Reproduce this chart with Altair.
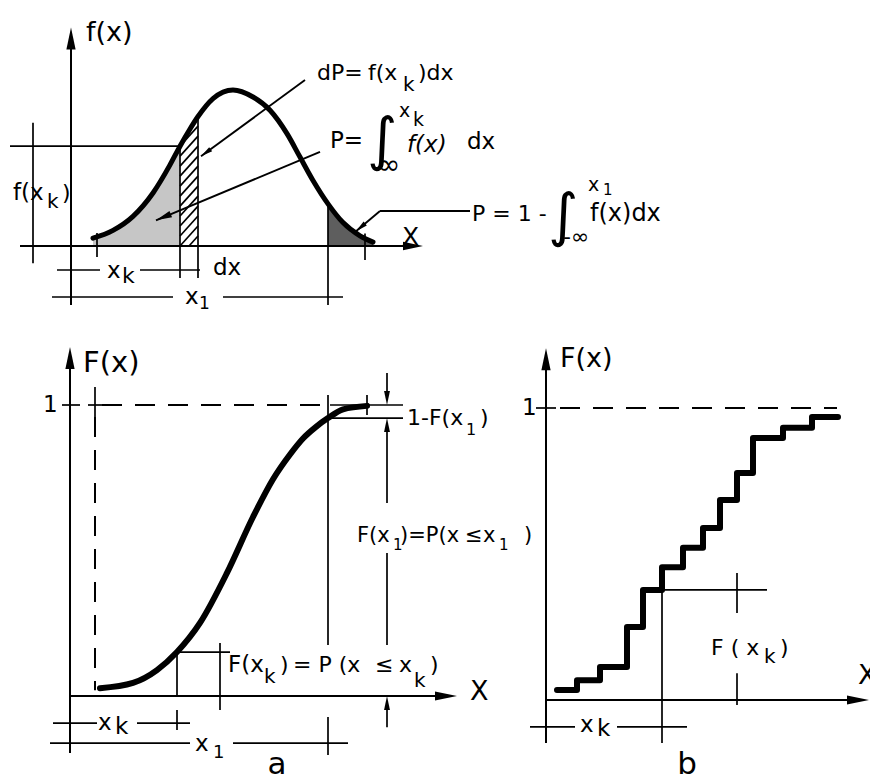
import math
import numpy as np
import pandas as pd
import altair as alt

FONT = "DejaVu Sans"
INK = "black"

# ---------------- top: probability density f(x) ----------------
pdf_x = [2.2, 4.2, 6.2, 8.2, 9.9, 10.9, 11.9, 12.7, 14.2, 16.2, 18.2, 19.9,
         21.6, 22.9, 24.2, 25.7, 27.2, 28.9, 30.2]
pdf_f = [0.05, 0.10, 0.19, 0.34, 0.52, 0.64, 0.75, 0.83, 0.945, 1.0, 0.955, 0.87,
         0.72, 0.57, 0.42, 0.27, 0.15, 0.065, 0.025]
pdf_xk = 10.9
pdf_dx = 1.8
pdf_x1 = 25.7

# ---------------- (a): continuous distribution function F(x) ----------------
cdf_x = [3.0, 6.3, 8.7, 10.7, 13.0, 15.7, 18.3, 20.3, 22.0, 23.3, 24.6, 25.8, 27.3, 29.7]
cdf_F = [0.027, 0.045, 0.089, 0.151, 0.251, 0.423, 0.615, 0.745, 0.83, 0.885, 0.925,
         0.955, 0.985, 0.997]
cdf_xk = 10.7
cdf_x1 = 25.8

# ---------------- (b): stepwise (discrete) distribution function ----------------
step_x = [1.1, 3.1, 5.4, 8.1, 9.7, 11.6, 13.7, 15.7, 17.4, 19.1, 20.7, 23.7, 26.6, 29.2]
step_F = [0.034, 0.068, 0.113, 0.25, 0.377, 0.455, 0.521, 0.589, 0.685, 0.777,
          0.897, 0.932, 0.969, 0.969]
step_xk = 11.6

# Arrowhead glyph: tip at the symbol origin, body trailing below it.
ARROW = "M0,0L0.42,2L-0.42,2Z"


def enc_xy(sx, sy):
    return dict(x=alt.X("x:Q", scale=sx, axis=None), y=alt.Y("y:Q", scale=sy, axis=None))


def rules(rows, sx, sy, width=1.6, dash=None):
    df = pd.DataFrame(rows, columns=["x", "y", "x2", "y2"])
    kw = dict(color=INK, strokeWidth=width, strokeCap="butt")
    if dash is not None:
        kw["strokeDash"] = dash
    return alt.Chart(df).mark_rule(**kw).encode(x2="x2:Q", y2="y2:Q", **enc_xy(sx, sy))


def arrows(rows, sx, sy):
    df = pd.DataFrame(rows, columns=["x", "y", "a", "s"])
    return alt.Chart(df).mark_point(shape=ARROW, filled=True, color=INK, opacity=1,
                                    strokeWidth=0).encode(
        angle=alt.Angle("a:Q", scale=None),
        size=alt.Size("s:Q", scale=None, legend=None),
        **enc_xy(sx, sy))


def texts(rows, sx, sy, align="left", style="normal"):
    df = pd.DataFrame(rows, columns=["t", "x", "y", "s"])
    return alt.Chart(df).mark_text(align=align, baseline="middle", font=FONT,
                                   fontStyle=style, color=INK).encode(
        text="t:N", size=alt.Size("s:Q", scale=None, legend=None), **enc_xy(sx, sy))


def heading(x0, y0, x1, y1, px_x, px_y):
    """Clockwise angle (deg) of an arrow pointing from (x0,y0) toward (x1,y1)."""
    dxp = (x1 - x0) * px_x
    dyp = -(y1 - y0) * px_y
    return math.degrees(math.atan2(dxp, -dyp)) % 360


def hatch(x0, x1, cx, cf, pitch, rise, n):
    rows = []
    ts = np.linspace(0, 1, 300)
    for k in range(n):
        b = -rise + k * pitch
        xx = x0 + (x1 - x0) * ts
        yy = b + rise * ts
        top = np.interp(xx, cx, cf)
        ok = np.where((yy >= 0) & (yy <= top))[0]
        if len(ok) > 1:
            rows.append((xx[ok[0]], yy[ok[0]], xx[ok[-1]], yy[ok[-1]]))
    return rows


# ======================= top panel =======================
sx_t = alt.Scale(domain=[0, 35.2], range=[71, 423], zero=False, nice=False)
sy_t = alt.Scale(domain=[0, 1], range=[246, 90], zero=False, nice=False)
PX_T, PY_T = 10.0, 156.0

pdf = pd.DataFrame({"x": pdf_x, "y": pdf_f})
fk = float(np.interp(pdf_xk, pdf_x, pdf_f))
fdx = float(np.interp(pdf_xk + pdf_dx, pdf_x, pdf_f))
f1 = float(np.interp(pdf_x1, pdf_x, pdf_f))

left_tail = pdf[pdf.x <= pdf_xk]
right_tail = pdf[pdf.x >= pdf_x1]

area_left = alt.Chart(left_tail).mark_area(color="#c6c6c6", interpolate="monotone").encode(
    y2=alt.datum(0), **enc_xy(sx_t, sy_t))
area_right = alt.Chart(right_tail).mark_area(color="#5e5e5e", interpolate="monotone").encode(
    y2=alt.datum(0), **enc_xy(sx_t, sy_t))
strip_hatch = rules(hatch(pdf_xk, pdf_xk + pdf_dx, pdf_x, pdf_f, 0.064, 0.128, 16),
                    sx_t, sy_t, width=1.7)
pdf_line = alt.Chart(pdf).mark_line(color=INK, strokeWidth=5, interpolate="monotone",
                                    strokeCap="round").encode(**enc_xy(sx_t, sy_t))

top_axes = rules([(0, -0.378, 0, 1.33), (-5.1, 0, 34.0, 0)], sx_t, sy_t, width=2.0)
top_thin = rules([
    (-3.8, 0.79, -3.8, -0.11),
    (-6.1, fk, pdf_xk, fk),
    (pdf_xk, fk, pdf_xk, -0.205),
    (pdf_xk + pdf_dx, fdx, pdf_xk + pdf_dx, -0.205),
    (pdf_x1, f1, pdf_x1, -0.378),
    (2.6, 0.083, 2.6, -0.07),
    (29.4, 0.08, 29.4, -0.09),
    (-1.4, -0.154, 2.9, -0.154), (6.9, -0.154, 12.9, -0.154),
    (-1.9, -0.327, 10.2, -0.327), (15.2, -0.327, 27.2, -0.327),
], sx_t, sy_t, width=1.7)

lead_dp = [(23.4, 1.064), (13.0, 0.575)]
lead_p = [(24.9, 0.603), (8.5, 0.165)]
lead_p1 = [(39.9, 0.224), (30.9, 0.224), (28.5, 0.095)]
top_leaders = rules([
    (*lead_dp[0], *lead_dp[1]),
    (*lead_p[0], *lead_p[1]),
    (*lead_p1[0], *lead_p1[1]), (*lead_p1[1], *lead_p1[2]),
], sx_t, sy_t, width=1.9)
top_arrows = arrows([
    (0, 1.40, 0, 484),
    (35.2, 0, 90, 400),
    (*lead_dp[1], heading(*lead_dp[0], *lead_dp[1], PX_T, PY_T), 144),
    (*lead_p[1], heading(*lead_p[0], *lead_p[1], PX_T, PY_T), 256),
    (*lead_p1[2], heading(*lead_p1[1], *lead_p1[2], PX_T, PY_T), 144),
], sx_t, sy_t)

top_text = texts([
    ("f(x)", 1.5, 1.365, 27),
    ("f(x", -5.8, 0.34, 23), ("k", -2.4, 0.28, 20), (")", -0.9, 0.34, 22),
    ("x", 3.6, -0.16, 23), ("k", 5.1, -0.19, 22),
    ("dx", 14.2, -0.141, 23),
    ("x", 11.4, -0.33, 23), ("1", 12.8, -0.37, 17),
    ("dP=", 24.6, 1.109, 22), ("f(x", 29.7, 1.109, 22), ("k", 33.2, 1.035, 20),
    (")dx", 34.7, 1.109, 22),
    ("P=", 25.9, 0.673, 23), ("∫", 29.6, 0.667, 58), ("x", 32.8, 0.865, 19),
    ("k", 34.2, 0.805, 19), ("∞", 30.6, 0.51, 28), ("dx", 39.6, 0.667, 23),
    ("P = 1 -", 40.1, 0.205, 22), ("∫", 47.7, 0.18, 58), ("x", 51.7, 0.39, 19),
    ("1", 53.2, 0.36, 15), ("-∞", 49.2, 0.055, 22), ("f(x)dx", 51.9, 0.205, 24),
    ("X", 33.1, 0.06, 25),
], sx_t, sy_t)
top_text_it = texts([("f(x)", 33.6, 0.645, 23)], sx_t, sy_t, style="italic")

top = alt.layer(area_left, area_right, strip_hatch, top_axes, top_thin, top_leaders,
                pdf_line, top_arrows, top_text, top_text_it)

# ======================= panel (a) =======================
sx_a = alt.Scale(domain=[0, 38.7], range=[70, 457], zero=False, nice=False)
sy_a = alt.Scale(domain=[0, 1], range=[696, 405], zero=False, nice=False)

cdf = pd.DataFrame({"x": cdf_x, "y": cdf_F})
Fk = float(np.interp(cdf_xk, cdf_x, cdf_F))
F1 = float(np.interp(cdf_x1, cdf_x, cdf_F))

cdf_line = alt.Chart(cdf).mark_line(color=INK, strokeWidth=6, interpolate="monotone",
                                    strokeCap="round").encode(**enc_xy(sx_a, sy_a))
a_axes = rules([(0, -0.196, 0, 1.13), (0, 0, 36.6, 0)], sx_a, sy_a, width=2.0)
a_thin = rules([
    (-0.8, 1, 1.0, 1),
    (1.8, 1, 3.2, 1),
    (2.5, 1.062, 2.5, 0.959),
    (cdf_xk, Fk, cdf_xk, 0),
    (cdf_xk, Fk, 16.0, Fk),
    (15.0, 0.182, 15.0, -0.048),
    (cdf_x1, 1.034, cdf_x1, 0.175),
    (cdf_x1, -0.072, cdf_x1, -0.203),
    (26.0, 1, 33.3, 1),
    (26.0, F1, 33.3, F1),
    (29.7, 1.034, 29.7, 0.966),
    (31.7, 1.110, 31.7, 1.03),
    (31.7, F1 - 0.03, 31.7, 0.663),
    (31.7, 0.491, 31.7, 0.175),
    (31.7, -0.107, 31.7, -0.03),
    (-1.7, -0.093, 2.7, -0.093), (6.7, -0.093, 12.0, -0.093),
    (cdf_xk, -0.048, cdf_xk, -0.117),
    (-2.0, -0.162, 12.0, -0.162), (16.3, -0.162, 27.8, -0.162),
], sx_a, sy_a, width=1.7)
a_dashed = rules([(2.5, 0.959, 2.5, 0.02), (3.2, 1, 25.0, 1)], sx_a, sy_a,
                 width=2.0, dash=[20, 13])
a_arrows = arrows([
    (0, 1.199, 0, 484),
    (38.7, 0, 90, 484),
    (31.7, 1.0, 180, 196),
    (31.7, F1, 0, 196),
    (31.7, 0, 0, 196),
], sx_a, sy_a)
a_text = texts([
    ("F(x)", 1.3, 1.144, 29),
    ("1", -2.7, 1.0, 23),
    ("1-F(x", 33.7, 0.955, 22), ("1", 39.6, 0.914, 16), (")", 41.0, 0.955, 22),
    ("F(x", 28.7, 0.55, 21), ("1", 32.3, 0.52, 15), (")=P(x", 33.0, 0.55, 21),
    ("≤", 39.5, 0.55, 21), ("x", 41.3, 0.55, 21), ("1", 42.9, 0.52, 15), (")", 45.4, 0.55, 21),
    ("F(x", 15.8, 0.107, 23), ("k", 19.4, 0.065, 20), (")", 21.0, 0.107, 22),
    ("= P (x", 22.3, 0.107, 22), ("≤", 30.5, 0.107, 22), ("x", 32.9, 0.107, 22),
    ("k", 34.4, 0.052, 20), (")", 36.0, 0.107, 22),
    ("X", 40.0, 0.014, 27),
    ("x", 2.8, -0.093, 23), ("k", 4.5, -0.107, 23),
    ("x", 12.5, -0.165, 23), ("1", 14.3, -0.196, 18),
], sx_a, sy_a)
a_label = texts([("a", 20.7, -0.238, 31)], sx_a, sy_a, align="center")

pa = alt.layer(a_axes, a_thin, a_dashed, cdf_line, a_arrows, a_text, a_label)

# ======================= panel (b) =======================
sx_b = alt.Scale(domain=[0, 32.3], range=[546, 869], zero=False, nice=False)
sy_b = alt.Scale(domain=[0, 1], range=[700, 408], zero=False, nice=False)

steps = pd.DataFrame({"x": step_x, "y": step_F})
Fk_b = float(steps.loc[steps.x < step_xk, "y"].iloc[-1])

step_line = alt.Chart(steps).mark_line(color=INK, strokeWidth=6, interpolate="step-after",
                                       strokeCap="round", strokeJoin="round").encode(
    **enc_xy(sx_b, sy_b))
b_axes = rules([(0, -0.147, 0, 1.135), (0, 0, 30.3, 0)], sx_b, sy_b, width=2.0)
b_thin = rules([
    (-1.0, 1, 1.0, 1),
    (step_xk, Fk_b, step_xk, -0.147),
    (step_xk, Fk_b, 22.1, Fk_b),
    (19.1, 0.435, 19.1, 0.298),
    (19.1, 0.092, 19.1, -0.017),
    (-1.6, -0.092, 2.9, -0.092), (7.1, -0.092, 14.1, -0.092),
], sx_b, sy_b, width=1.7)
b_dashed = rules([(1.4, 1, 29.1, 1)], sx_b, sy_b, width=2.0, dash=[20, 13])
b_arrows = arrows([(0, 1.205, 0, 484), (32.3, 0, 90, 484)], sx_b, sy_b)
b_text = texts([
    ("F(x)", 1.4, 1.168, 27),
    ("1", -2.4, 1.0, 23),
    ("F ( x", 16.5, 0.178, 22), ("k", 21.8, 0.147, 20), (")", 23.4, 0.178, 22),
    ("x", 3.4, -0.086, 23), ("k", 5.1, -0.1, 23),
    ("X", 31.2, 0.082, 27),
], sx_b, sy_b)
b_label = texts([("b", 14.1, -0.222, 31)], sx_b, sy_b, align="center")

pb = alt.layer(b_axes, b_thin, b_dashed, step_line, b_arrows, b_text, b_label)

chart = (
    alt.layer(top, pa, pb)
    .resolve_scale(x="independent", y="independent")
    .properties(width=870, height=781, padding=0, background="white",
                autosize=alt.AutoSizeParams(type="none"))
    .configure_view(stroke=None)
)

chart.save("out.html", embed_options={"renderer": "svg", "actions": False})
